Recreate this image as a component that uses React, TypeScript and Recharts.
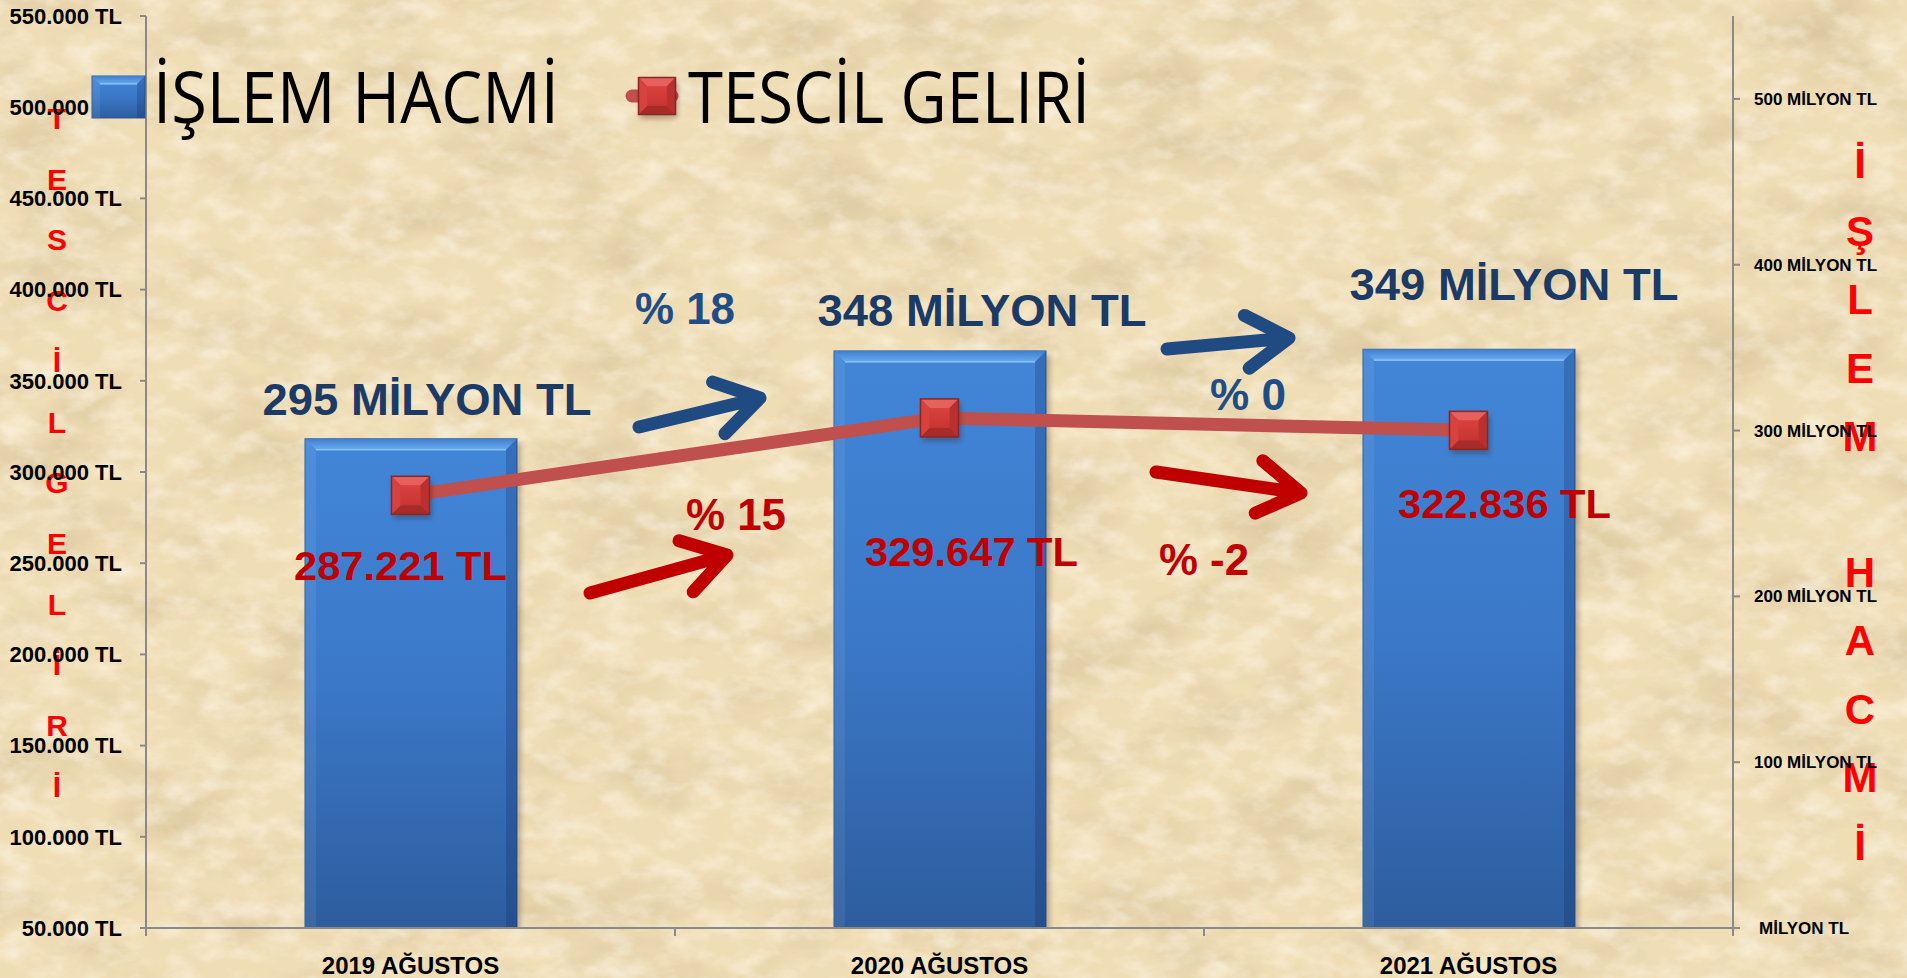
import React from 'react';
import { ComposedChart, Bar, Line, XAxis, YAxis, Legend, LabelList, Customized } from 'recharts';

// ---------- DATA ----------
const categories = ['2019 AĞUSTOS', '2020 AĞUSTOS', '2021 AĞUSTOS'];
const islemHacmi = [295, 348, 349]; // milyon TL (right axis)
const tescilGeliri = [287221, 329647, 322836]; // TL (left axis)
const islemLabels = ['295 MİLYON TL', '348 MİLYON TL', '349 MİLYON TL'];
const tescilLabels = ['287.221 TL', '329.647 TL', '322.836 TL'];
const islemChange = ['% 18', '% 0'];
const tescilChange = ['% 15', '% -2'];
const leftTicks = [50000, 100000, 150000, 200000, 250000, 300000, 350000, 400000, 450000, 500000, 550000];
const rightTicks = [0, 100, 200, 300, 400, 500];
const seriesNames = ['İŞLEM HACMİ', 'TESCİL GELIRİ'];
const leftTitle = 'TESCİL GELİRİ';
const rightTitle = 'İŞLEM HACMİ';

const data = categories.map((c, i) => ({ category: c, islem: islemHacmi[i], tescil: tescilGeliri[i] }));

// ---------- LAYOUT / STYLE ----------
const W = 1907;
const H = 978;
const BOLD = "'Liberation Sans', Arial, sans-serif";
const NARROW = "'Liberation Sans Narrow', 'Open Sans', sans-serif";
const AXIS = '#8A8A8A';
const NAVY = '#1B3A66';
const STEEL = '#1F4E86';
const DARKRED = '#C00000';

const barLabelOffsets = [
  { dx: 16, dy: -24 },
  { dx: 42, dy: -25 },
  { dx: 45, dy: -49 },
];
const lineLabelOffsets = [
  { dx: -10, dy: 85 },
  { dx: 32, dy: 148 },
  { dx: 36, dy: 88 },
];
// annotation positions (page px)
const changeTextPos = {
  islem: [{ x: 685, y: 324 }, { x: 1248, y: 410 }],
  tescil: [{ x: 736, y: 530 }, { x: 1204, y: 575 }],
};
const arrowPos = {
  islem: [[639, 427, 760, 398], [1167, 349, 1289, 338]],
  tescil: [[590, 593, 727, 555], [1156, 472, 1301, 493]],
};

const fmtLeft = (v: number) => String(v).replace(/\B(?=(\d{3})+(?!\d))/g, '.') + ' TL';
const fmtRight = (v: number) => (v === 0 ? 'MİLYON TL' : `${v} MİLYON TL`);

// ---------- SHAPES ----------
const BlueBox = ({ x, y, w, h, b }: any) => {
  const x1 = x + w;
  const y1 = y + h;
  return (
    <g>
      <rect x={x} y={y} width={w} height={h} fill="url(#barGrad)" stroke="#2A5A96" strokeWidth={1} />
      <polygon points={`${x},${y} ${x1},${y} ${x1 - b},${y + b} ${x + b},${y + b}`} fill="url(#barTop)" />
      <polygon points={`${x},${y} ${x + b},${y + b} ${x + b},${y1} ${x},${y1}`} fill="rgba(255,255,255,0.07)" />
      <polygon points={`${x1},${y} ${x1 - b},${y + b} ${x1 - b},${y1} ${x1},${y1}`} fill="rgba(10,30,80,0.22)" />
      <line x1={x + b} y1={y + b} x2={x1 - b} y2={y + b} stroke="rgba(170,215,255,0.6)" strokeWidth={1.5} />
    </g>
  );
};

const BarShape = (p: any) => {
  const { x, y, width, height } = p;
  if (height <= 0) return null;
  return (
    <g>
      <rect x={x + 4} y={y + 4} width={width} height={height} fill="rgba(70,50,20,0.3)" filter="url(#soft)" />
      <BlueBox x={x} y={y} w={width} h={height} b={11} />
    </g>
  );
};

const RedSquare = ({ cx, cy, s }: any) => {
  const h = s / 2;
  const b = s * 0.24;
  const x0 = cx - h, y0 = cy - h, x1 = cx + h, y1 = cy + h;
  return (
    <g>
      <rect x={x0 + 2} y={y0 + 4} width={s} height={s} fill="rgba(60,20,10,0.35)" filter="url(#soft)" />
      <rect x={x0} y={y0} width={s} height={s} fill="#CE3836" />
      <polygon points={`${x0},${y0} ${x1},${y0} ${x1 - b},${y0 + b} ${x0 + b},${y0 + b}`} fill="#E6605C" />
      <polygon points={`${x0},${y1} ${x1},${y1} ${x1 - b},${y1 - b} ${x0 + b},${y1 - b}`} fill="#A62B29" />
      <polygon points={`${x0},${y0} ${x0 + b},${y0 + b} ${x0 + b},${y1 - b} ${x0},${y1}`} fill="#D7423F" />
      <polygon points={`${x1},${y0} ${x1 - b},${y0 + b} ${x1 - b},${y1 - b} ${x1},${y1}`} fill="#B9302E" />
      <rect x={x0 + b} y={y0 + b} width={s - 2 * b} height={s - 2 * b} fill="url(#redInner)" />
      <rect x={x0} y={y0} width={s} height={s} fill="none" stroke="#8A2624" strokeWidth={1.5} />
    </g>
  );
};

const Dot = (p: any) => {
  const { cx, cy, index } = p;
  if (cx == null || cy == null) return null;
  return <RedSquare key={`d${index}`} cx={cx} cy={cy} s={38} />;
};

const BarLabel = (p: any) => {
  const { x, y, width, index } = p;
  const o = barLabelOffsets[index];
  return (
    <text x={x + width / 2 + o.dx} y={y + o.dy} textAnchor="middle" fill={NAVY} fontFamily={BOLD}
      fontWeight={700} fontSize={44} textLength={329} lengthAdjust="spacingAndGlyphs">
      {islemLabels[index]}
    </text>
  );
};

const LineLabel = (p: any) => {
  const { x, y, index } = p;
  const o = lineLabelOffsets[index];
  return (
    <text x={x + o.dx} y={y + o.dy} textAnchor="middle" fill={DARKRED} fontFamily={BOLD}
      fontWeight={700} fontSize={41} textLength={213} lengthAdjust="spacingAndGlyphs">
      {tescilLabels[index]}
    </text>
  );
};

const CatTick = (p: any) => {
  const { x, y, payload, index } = p;
  const half = payload && payload.offset ? payload.offset : 264.5;
  const axisY = y - 29;
  return (
    <g>
      {index === 0 && <line x1={x - half} x2={x - half} y1={axisY} y2={axisY + 8} stroke={AXIS} strokeWidth={2} />}
      <line x1={x + half} x2={x + half} y1={axisY} y2={axisY + 8} stroke={AXIS} strokeWidth={2} />
      <text x={x} y={y} dy="0.72em" textAnchor="middle" fill="#000" fontFamily={BOLD} fontWeight={700} fontSize={24}>
        {payload.value}
      </text>
    </g>
  );
};

const RightTick = (p: any) => {
  const { x, y, payload } = p;
  const extra = payload.value === 0 ? 5 : 0;
  return (
    <text x={x + extra} y={y} dy="0.355em" textAnchor="start" fill="#000" fontFamily={BOLD} fontWeight={700} fontSize={17}>
      {fmtRight(payload.value)}
    </text>
  );
};

const Arrow = ({ a, color }: any) => {
  const [x1, y1, x2, y2] = a;
  const ang = Math.atan2(y2 - y1, x2 - x1);
  const L = 50;
  const da = (32 * Math.PI) / 180;
  const ax = x2 - L * Math.cos(ang - da);
  const ay = y2 - L * Math.sin(ang - da);
  const bx = x2 - L * Math.cos(ang + da);
  const by = y2 - L * Math.sin(ang + da);
  return (
    <path d={`M${x1},${y1} L${x2},${y2} M${ax},${ay} L${x2},${y2} L${bx},${by}`} fill="none" stroke={color}
      strokeWidth={13} strokeLinecap="round" strokeLinejoin="round" />
  );
};

const Annotations = () => {
  const leftLetters = leftTitle.replace(/ /g, '').split('');
  const rightLetters = rightTitle.split('');
  return (
    <g>
      {leftLetters.map((c, i) => (
        <text key={`l${i}`} x={57} y={129 + i * 60.7} textAnchor="middle" fill="#FF0000" fontFamily={BOLD}
          fontWeight={700} fontSize={30}>{c}</text>
      ))}
      {rightLetters.map((c, i) => (c === ' ' ? null : (
        <text key={`r${i}`} x={1860} y={178 + i * 68.2} textAnchor="middle" fill="#FF0000" fontFamily={BOLD}
          fontWeight={700} fontSize={42}>{c}</text>
      )))}
      {arrowPos.islem.map((a, i) => <Arrow key={`ab${i}`} a={a} color="#1F4A82" />)}
      {arrowPos.tescil.map((a, i) => <Arrow key={`ar${i}`} a={a} color={DARKRED} />)}
      {islemChange.map((t, i) => (
        <text key={`ci${i}`} x={changeTextPos.islem[i].x} y={changeTextPos.islem[i].y} textAnchor="middle" fill={STEEL}
          fontFamily={BOLD} fontWeight={700} fontSize={44} textLength={i === 0 ? 100 : 76} lengthAdjust="spacingAndGlyphs">{t}</text>
      ))}
      {tescilChange.map((t, i) => (
        <text key={`ct${i}`} x={changeTextPos.tescil[i].x} y={changeTextPos.tescil[i].y} textAnchor="middle" fill={DARKRED}
          fontFamily={BOLD} fontWeight={700} fontSize={44} textLength={i === 0 ? 100 : 90} lengthAdjust="spacingAndGlyphs">{t}</text>
      ))}
    </g>
  );
};

const LegendContent = () => (
  <svg width={1200} height={140} style={{ display: 'block', overflow: 'visible' }}>
    <BlueBox x={92} y={76} w={53} h={42} b={8} />
    <text x={153} y={123} fontSize={71} fill="#000" fontFamily={NARROW} textLength={406} lengthAdjust="spacingAndGlyphs">
      {seriesNames[0]}
    </text>
    <line x1={632} x2={672} y1={96} y2={96} stroke="#C0504D" strokeWidth={13} strokeLinecap="round" />
    <RedSquare cx={657} cy={96} s={37} />
    <text x={688} y={123} fontSize={71} fill="#000" fontFamily={NARROW} textLength={402} lengthAdjust="spacingAndGlyphs">
      {seriesNames[1]}
    </text>
  </svg>
);

const Background = () => (
  <svg width={W} height={H} style={{ position: 'absolute', left: 0, top: 0 }}>
    <defs>
      <filter id="paperNoise" x="0" y="0" width="100%" height="100%">
        <feTurbulence type="fractalNoise" baseFrequency="0.009 0.016" numOctaves={6} seed={7} />
        <feColorMatrix type="matrix" values="0 0 0 0 0.6  0 0 0 0 0.47  0 0 0 0 0.27  1.1 0 0 0 -0.48" />
      </filter>
      <filter id="paperLight" x="0" y="0" width="100%" height="100%">
        <feTurbulence type="fractalNoise" baseFrequency="0.03 0.05" numOctaves={4} seed={21} />
        <feColorMatrix type="matrix" values="0 0 0 0 1  0 0 0 0 0.96  0 0 0 0 0.86  1.2 0 0 0 -0.5" />
      </filter>
      <filter id="soft" x="-20%" y="-20%" width="140%" height="140%">
        <feGaussianBlur stdDeviation="2.5" />
      </filter>
      <linearGradient id="barGrad" x1="0" y1="0" x2="0" y2="1">
        <stop offset="0" stopColor="#4286D8" />
        <stop offset="0.5" stopColor="#3B78C8" />
        <stop offset="1" stopColor="#2D5D9E" />
      </linearGradient>
      <linearGradient id="barTop" x1="0" y1="0" x2="0" y2="1">
        <stop offset="0" stopColor="#3F7ECF" />
        <stop offset="1" stopColor="#69ACF0" />
      </linearGradient>
      <linearGradient id="redInner" x1="0" y1="0" x2="0" y2="1">
        <stop offset="0" stopColor="#D8413E" />
        <stop offset="1" stopColor="#C73533" />
      </linearGradient>
    </defs>
    <rect x={0} y={0} width={W} height={H} fill="#EFDDB5" />
    <rect x={0} y={0} width={W} height={H} filter="url(#paperNoise)" />
    <rect x={0} y={0} width={W} height={H} filter="url(#paperLight)" />
  </svg>
);

export default function App() {
  return (
    <div style={{ position: 'absolute', left: 0, top: 0, width: W, height: H, overflow: 'hidden' }}>
      <Background />
      <div style={{ position: 'absolute', left: 0, top: 0 }}>
        <ComposedChart width={W} height={H} data={data} margin={{ top: 16, right: 0, bottom: 0, left: 0 }}>
          <XAxis dataKey="category" xAxisId="cat" height={50} tickLine={false} tickSize={6} tickMargin={23}
            axisLine={{ stroke: AXIS, strokeWidth: 2 }} tick={<CatTick />} interval={0} />
          <YAxis yAxisId="left" orientation="left" width={146} domain={[50000, 550000]} ticks={leftTicks}
            tickFormatter={fmtLeft} tickSize={6} tickMargin={18} interval={0}
            axisLine={{ stroke: AXIS, strokeWidth: 2 }} tickLine={{ stroke: AXIS, strokeWidth: 2 }}
            tick={{ fill: '#000', fontFamily: BOLD, fontWeight: 700, fontSize: 22 }} allowDataOverflow />
          <YAxis yAxisId="right" orientation="right" width={174} domain={[0, 550]} ticks={rightTicks}
            tickFormatter={fmtRight} tickSize={7} tickMargin={14} interval={0}
            axisLine={{ stroke: AXIS, strokeWidth: 2 }} tickLine={{ stroke: AXIS, strokeWidth: 2 }}
            tick={<RightTick />} allowDataOverflow />
          <Bar dataKey="islem" name={seriesNames[0]} xAxisId="cat" yAxisId="right" barSize={212}
            shape={<BarShape />} isAnimationActive={false}>
            <LabelList dataKey="islem" content={<BarLabel />} />
          </Bar>
          <Line dataKey="tescil" name={seriesNames[1]} xAxisId="cat" yAxisId="left" type="linear"
            stroke="#C0504D" strokeWidth={13} dot={Dot} activeDot={false} isAnimationActive={false}>
            <LabelList dataKey="tescil" content={<LineLabel />} />
          </Line>
          <Legend layout="horizontal" verticalAlign="middle" align="center"
            wrapperStyle={{ position: 'absolute', left: 0, top: 0, width: 1200, height: 140 }}
            content={() => <LegendContent />} />
          <Customized component={<Annotations />} />
        </ComposedChart>
      </div>
    </div>
  );
}
